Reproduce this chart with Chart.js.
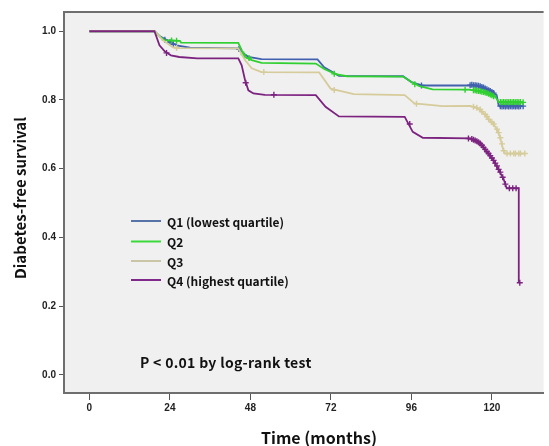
<!DOCTYPE html>
<html>
<head>
<meta charset="utf-8">
<script src="https://cdn.jsdelivr.net/npm/chart.js@4.4.0/dist/chart.umd.min.js"></script>
<style>
html, body { margin: 0; padding: 0; background: #fff; overflow: hidden; }
#km { display: block; }
</style>
</head>
<body>
<canvas id="km" width="549" height="446"></canvas>
<script>
// series labels
const seriesNames = ['Q1 (lowest quartile)', 'Q2', 'Q3', 'Q4 (highest quartile)'];

// kaplan-meier curves: time (months) and survival
const q1Time = [0, 19.4, 21, 23.8, 26, 30, 44.4, 46, 47.4, 51.3, 68, 70, 74.4, 93.5, 96, 99.4, 113.1, 116, 119, 121.4, 122, 129.3];
const q1Surv = [1, 1, 0.985, 0.971, 0.959, 0.952, 0.950, 0.935, 0.925, 0.919, 0.918, 0.895, 0.870, 0.869, 0.852, 0.842, 0.842, 0.840, 0.828, 0.814, 0.784, 0.782];

const q2Time = [0, 19.4, 21, 22.4, 27, 27.3, 44.4, 45.4, 46.4, 48.4, 51.3, 67.5, 70, 73.4, 76.8, 93.5, 96, 98.4, 102.3, 113.1, 116, 119, 121, 122, 129.3];
const q2Surv = [1, 1, 0.985, 0.974, 0.972, 0.967, 0.966, 0.945, 0.925, 0.916, 0.908, 0.906, 0.890, 0.875, 0.869, 0.868, 0.852, 0.840, 0.831, 0.830, 0.826, 0.819, 0.809, 0.795, 0.792];

const q3Time = [0, 19.4, 21.9, 24.8, 27, 44.4, 46.4, 48.4, 51.3, 68.5, 71.9, 78.8, 94, 96.9, 105.3, 113.6, 116, 118.5, 121, 122.4, 123.4, 123.9, 129.8];
const q3Surv = [1, 1, 0.974, 0.954, 0.951, 0.950, 0.916, 0.892, 0.881, 0.880, 0.833, 0.817, 0.814, 0.790, 0.782, 0.783, 0.775, 0.751, 0.722, 0.693, 0.654, 0.644, 0.644];

const q4Time = [0, 19.4, 20.9, 22.4, 24.3, 26.8, 32.2, 44.4, 45.4, 46.4, 47.4, 48.9, 52.3, 67.5, 70.4, 74.4, 94, 96.4, 99.4, 113.6, 116, 118, 120, 122, 123.4, 124.4, 128, 128];
const q4Surv = [1, 1, 0.959, 0.942, 0.930, 0.925, 0.921, 0.921, 0.901, 0.858, 0.828, 0.819, 0.815, 0.814, 0.780, 0.752, 0.751, 0.707, 0.690, 0.688, 0.678, 0.654, 0.630, 0.596, 0.572, 0.543, 0.543, 0.268];

// censoring marks (+)
const q1CensTime = [22.5, 24, 25, 44.6, 99, 113.5, 114, 114.5, 115, 115.5, 116, 116.5, 117, 117.5, 118, 118.5, 119, 119.5, 120, 120.5, 122.5, 123, 123.5, 124, 124.5, 125, 125.5, 126, 126.5, 127, 127.5, 128, 128.5, 129.3];
const q1CensSurv = [0.975, 0.968, 0.962, 0.948, 0.842, 0.843, 0.844, 0.843, 0.843, 0.842, 0.841, 0.840, 0.838, 0.836, 0.833, 0.831, 0.828, 0.826, 0.823, 0.820, 0.782, 0.781, 0.782, 0.781, 0.782, 0.781, 0.782, 0.781, 0.782, 0.781, 0.782, 0.781, 0.782, 0.782];

const q2CensTime = [24.5, 26, 46, 47.6, 73, 97, 112, 114.5, 115, 115.5, 116, 116.5, 117, 117.5, 118, 118.5, 119, 119.5, 120, 120.5, 122.5, 123, 123.5, 124, 124.5, 125, 125.5, 126, 126.5, 127, 127.5, 128, 128.5, 129.3];
const q2CensSurv = [0.973, 0.972, 0.932, 0.922, 0.876, 0.846, 0.830, 0.828, 0.828, 0.827, 0.826, 0.825, 0.824, 0.823, 0.822, 0.820, 0.818, 0.816, 0.814, 0.811, 0.794, 0.793, 0.794, 0.793, 0.794, 0.793, 0.794, 0.793, 0.794, 0.793, 0.794, 0.793, 0.794, 0.793];

const q3CensTime = [26, 52, 73, 97.5, 114.5, 115.5, 116.5, 117, 118, 118.5, 119, 120, 120.5, 121.5, 122, 122.5, 123, 123.5, 124.5, 125.5, 126.5, 127, 128, 128.5, 129.8];
const q3CensSurv = [0.951, 0.881, 0.829, 0.789, 0.780, 0.777, 0.772, 0.766, 0.758, 0.752, 0.744, 0.735, 0.730, 0.715, 0.705, 0.690, 0.672, 0.652, 0.644, 0.644, 0.644, 0.644, 0.644, 0.644, 0.644];

const q4CensTime = [23, 46.6, 55, 95.5, 113, 114, 114.5, 115, 115.5, 116, 116.5, 117, 117.5, 118, 118.5, 119, 119.5, 120, 120.5, 121, 121.5, 122, 122.5, 123.2, 124, 125.2, 126.2, 127.2, 128.3];
const q4CensSurv = [0.937, 0.850, 0.815, 0.730, 0.688, 0.686, 0.684, 0.682, 0.680, 0.677, 0.673, 0.668, 0.662, 0.656, 0.650, 0.644, 0.638, 0.631, 0.624, 0.616, 0.608, 0.598, 0.590, 0.575, 0.555, 0.543, 0.543, 0.543, 0.268];

// axis ticks
const xTicks = [0, 24, 48, 72, 96, 120];
const yTicks = [0.0, 0.2, 0.4, 0.6, 0.8, 1.0];

const colors = ['#4161ae', '#2fd02f', '#d6cb9a', '#7c2380'];
const legendColors = ['#5674a8', '#3cd93c', '#cbc5a8', '#80298a'];

function toPoints(ts, ss) {
    return ts.map((t, i) => ({x: t, y: ss[i]}));
}

const curves = [
    toPoints(q1Time, q1Surv),
    toPoints(q2Time, q2Surv),
    toPoints(q3Time, q3Surv),
    toPoints(q4Time, q4Surv)
];
const censors = [
    toPoints(q1CensTime, q1CensSurv),
    toPoints(q2CensTime, q2CensSurv),
    toPoints(q3CensTime, q3CensSurv),
    toPoints(q4CensTime, q4CensSurv)
];

let datasets = [];
for (let i = 0; i < 4; i++) {
    datasets.push({
        label: seriesNames[i],
        data: curves[i],
        borderColor: colors[i],
        borderWidth: 1.8,
        pointRadius: 0,
        tension: 0,
        fill: false,
        order: 4 - i
    });
    datasets.push({
        label: seriesNames[i] + ' censored',
        data: censors[i],
        showLine: false,
        borderColor: colors[i],
        backgroundColor: colors[i],
        pointStyle: 'cross',
        pointRadius: 3,
        pointBorderWidth: 1.4,
        order: 4 - i
    });
}

// grey plot background, top frame line, legend and texts
const decor = {
    id: 'decor',
    beforeDraw(chart) {
        const ctx = chart.ctx;
        const a = chart.chartArea;
        ctx.save();
        ctx.fillStyle = '#f0f0f0';
        ctx.fillRect(a.left, a.top, a.right - a.left, a.bottom - a.top);
        ctx.restore();
    },
    afterDraw(chart) {
        const ctx = chart.ctx;
        const a = chart.chartArea;
        ctx.save();
        // top frame
        ctx.strokeStyle = '#6e6e6e';
        ctx.lineWidth = 2;
        ctx.beginPath();
        ctx.moveTo(a.left - 1, a.top);
        ctx.lineTo(a.right, a.top);
        ctx.stroke();

        // legend
        const rows = [221, 241.5, 261, 280];
        ctx.font = 'bold 12px "Noto Sans CJK KR", "Noto Sans", sans-serif';
        ctx.textBaseline = 'middle';
        ctx.textAlign = 'left';
        for (let i = 0; i < 4; i++) {
            ctx.strokeStyle = legendColors[i];
            ctx.lineWidth = 2;
            ctx.beginPath();
            ctx.moveTo(131, rows[i]);
            ctx.lineTo(161, rows[i]);
            ctx.stroke();
            ctx.fillStyle = '#111';
            ctx.fillText(seriesNames[i], 167, rows[i] + 1);
        }

        // p value note, the original font has wider spacing
        ctx.font = 'bold 14px "Noto Sans CJK KR", "Noto Sans", sans-serif';
        ctx.letterSpacing = '0.3px';
        ctx.fillText('P < 0.01 by log-rank test', 140, 363);
        ctx.letterSpacing = '0px';

        // axis titles
        ctx.font = 'bold 16px "Noto Sans CJK KR", "Noto Sans", sans-serif';
        ctx.textAlign = 'center';
        ctx.fillText('Time (months)', 319, 438);
        ctx.font = 'bold 15px "Noto Sans CJK KR", "Noto Sans", sans-serif';
        ctx.translate(20, 198);
        ctx.rotate(-Math.PI / 2);
        ctx.fillText('Diabetes-free survival', 0, 0);
        ctx.restore();
    }
};

const tickFont = {family: '"Liberation Sans", Arial, sans-serif', size: 10, weight: 'bold'};

new Chart(document.getElementById('km'), {
    type: 'line',
    data: {datasets: datasets},
    plugins: [decor],
    options: {
        responsive: false,
        animation: false,
        events: [],
        layout: {padding: {top: 12, right: 0, left: 0, bottom: 0}},
        plugins: {
            legend: {display: false},
            tooltip: {enabled: false}
        },
        scales: {
            x: {
                type: 'linear',
                min: -7.56,
                max: 135.4,
                afterBuildTicks: (scale) => { scale.ticks = xTicks.map(v => ({value: v})); },
                afterFit: (scale) => { scale.height = 53; },
                border: {display: true, color: '#6e6e6e', width: 2},
                grid: {drawOnChartArea: false, drawTicks: true, tickLength: 7, color: '#555', lineWidth: 1},
                ticks: {font: tickFont, color: '#222', padding: 2, maxRotation: 0}
            },
            y: {
                type: 'linear',
                min: -0.053,
                max: 1.056,
                afterBuildTicks: (scale) => { scale.ticks = yTicks.map(v => ({value: v})); },
                afterFit: (scale) => { scale.width = 64; },
                border: {display: true, color: '#6e6e6e', width: 2},
                grid: {drawOnChartArea: false, drawTicks: true, tickLength: 5, color: '#555', lineWidth: 1},
                ticks: {font: tickFont, color: '#222', padding: 3, callback: (v) => v.toFixed(1)}
            }
        }
    }
});
</script>
</body>
</html>
